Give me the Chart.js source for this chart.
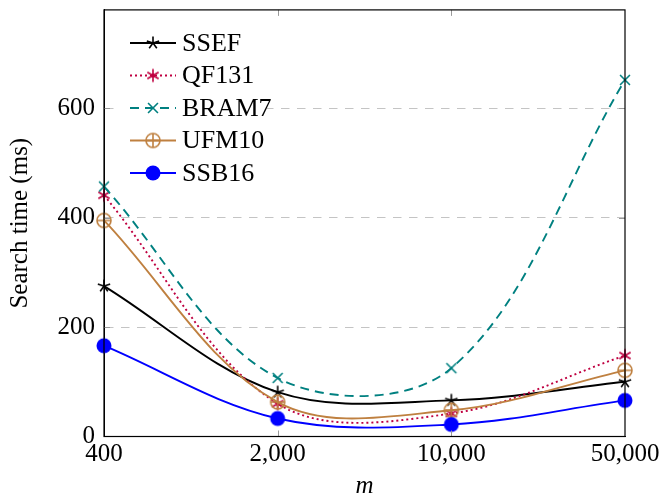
<!DOCTYPE html>
<html lang="en">
<head>
<meta charset="UTF-8">
<title>Search time</title>
<script src="https://cdn.jsdelivr.net/npm/chart.js"></script>
<style>
  body { margin: 0; background: #fff; }
  #wrap { width: 663px; height: 501px; }
</style>
</head>
<body>
<div id="wrap"><canvas id="searchChart"></canvas></div>
<script>
// pattern length m (log spaced, so drawn as evenly spaced categories)
const patternLengths = ['400', '2,000', '10,000', '50,000'];
const ssef  = [275, 81, 66, 100];
const qf131 = [441, 60, 42, 148];
const bram7 = [457, 107, 125, 652];
const ufm10 = [395, 63, 48, 121];
const ssb16 = [166, 33, 22, 66];
const yTicks = [0, 200, 400, 600];

const FONT = "'Liberation Serif', 'DejaVu Serif', serif";

function makeMarker(draw) {
    const c = document.createElement('canvas');
    c.width = 20; c.height = 20;
    const g = c.getContext('2d');
    g.translate(10, 10);
    draw(g);
    return c;
}

function spokes(color, n, r, start) {
    return makeMarker(g => {
        g.strokeStyle = color;
        g.lineWidth = 1.6;
        g.beginPath();
        for (let k = 0; k < n; k++) {
            const a = start + k * 2 * Math.PI / n;
            g.moveTo(0, 0);
            g.lineTo(r * Math.cos(a), -r * Math.sin(a));
        }
        g.stroke();
    });
}

const starMark = spokes('#000000', 5, 6.5, Math.PI / 2);
const asteriskMark = spokes('#bf0040', 6, 6.5, Math.PI / 2);
const crossMark = spokes('#008080', 4, 7, Math.PI / 4);
const oplusMark = makeMarker(g => {
    g.strokeStyle = '#bf8040';
    g.lineWidth = 1.6;
    g.beginPath();
    g.arc(0, 0, 7, 0, 2 * Math.PI);
    g.moveTo(-7, 0); g.lineTo(7, 0);
    g.moveTo(0, -7); g.lineTo(0, 7);
    g.stroke();
});
const dotMark = makeMarker(g => {
    g.fillStyle = '#0000ff';
    g.beginPath();
    g.arc(0, 0, 7.5, 0, 2 * Math.PI);
    g.fill();
});

function series(label, data, color, mark, dash, order) {
    return {
        label: label,
        data: data,
        borderColor: color,
        backgroundColor: color,
        borderWidth: 1.9,
        borderDash: dash,
        pointStyle: mark,
        pointRadius: 8,
        tension: 0.35,
        fill: false,
        clip: false,
        order: order
    };
}

// inward tick marks on all four sides, like the original frame
const frameTicks = {
    id: 'frameTicks',
    afterDatasetsDraw(chart) {
        const { ctx, chartArea: a, scales } = chart;
        ctx.save();
        ctx.strokeStyle = '#999';
        ctx.lineWidth = 1;
        ctx.beginPath();
        yTicks.slice(1).forEach(v => {
            const y = Math.round(scales.y.getPixelForValue(v)) + 0.5;
            ctx.moveTo(a.left, y); ctx.lineTo(a.left + 6, y);
            ctx.moveTo(a.right, y); ctx.lineTo(a.right - 6, y);
        });
        patternLengths.forEach((l, i) => {
            if (i === 0 || i === patternLengths.length - 1) return;
            const x = Math.round(scales.x.getPixelForValue(i)) + 0.5;
            ctx.moveTo(x, a.bottom); ctx.lineTo(x, a.bottom - 6);
            ctx.moveTo(x, a.top); ctx.lineTo(x, a.top + 6);
        });
        ctx.stroke();
        ctx.strokeStyle = '#000';
        ctx.lineWidth = 1.2;
        ctx.strokeRect(a.left, a.top, a.right - a.left, a.bottom - a.top);
        ctx.restore();
    }
};

// legend inside the plot: line sample, marker, name
const insideLegend = {
    id: 'insideLegend',
    afterDraw(chart) {
        const ctx = chart.ctx;
        const sets = chart.data.datasets;
        ctx.save();
        ctx.fillStyle = '#fff';
        ctx.fillRect(117, 24, 150, 166);
        sets.forEach((ds, i) => {
            const y = 43 + i * 32.5;
            ctx.strokeStyle = ds.borderColor;
            ctx.lineWidth = ds.borderWidth;
            ctx.setLineDash(ds.borderDash);
            ctx.beginPath();
            ctx.moveTo(130, y); ctx.lineTo(176, y);
            ctx.stroke();
            ctx.setLineDash([]);
            ctx.drawImage(ds.pointStyle, 153 - 10, y - 10);
            ctx.fillStyle = '#000';
            ctx.font = '26px ' + FONT;
            ctx.textBaseline = 'middle';
            ctx.fillText(ds.label, 182, y + 1);
        });
        ctx.restore();
    }
};

new Chart(document.getElementById('searchChart'), {
    type: 'line',
    data: {
        labels: patternLengths,
        datasets: [
            series('SSEF', ssef, '#000000', starMark, [], 4),
            series('QF131', qf131, '#bf0040', asteriskMark, [2, 3], 3),
            series('BRAM7', bram7, '#008080', crossMark, [9, 6], 2),
            series('UFM10', ufm10, '#bf8040', oplusMark, [], 1),
            series('SSB16', ssb16, '#0000ff', dotMark, [], 0)
        ]
    },
    options: {
        responsive: true,
        maintainAspectRatio: false,
        animation: false,
        layout: { padding: { left: 0, top: 7, right: 38, bottom: 0 } },
        plugins: {
            legend: { display: false },
            tooltip: { enabled: false }
        },
        scales: {
            x: {
                type: 'category',
                offset: false,
                grid: { display: false, drawTicks: false },
                border: { color: '#000', width: 1 },
                ticks: { color: '#000', padding: 3, font: { family: FONT, size: 25 } },
                title: {
                    display: true, text: 'm', color: '#000', padding: { top: 7, bottom: 0 },
                    font: { family: FONT, size: 25, style: 'italic' }
                },
                afterFit(scale) {
                    scale.height = 64.5;
                    scale.paddingLeft = 0;
                    scale.paddingRight = 0;
                }
            },
            y: {
                min: 0,
                max: 780,
                afterBuildTicks(scale) { scale.ticks = yTicks.map(v => ({ value: v })); },
                grid: {
                    drawTicks: false,
                    color: ctx => ctx.tick && ctx.tick.value === 0 ? 'rgba(0,0,0,0)' : '#c4c4c4',
                    lineWidth: 1
                },
                border: { color: '#000', width: 1, dash: [8.5, 7.5] },
                ticks: { color: '#000', padding: 9, font: { family: FONT, size: 25 } },
                title: {
                    display: true, text: 'Search time (ms)', color: '#000', padding: { top: 5, bottom: 0 },
                    font: { family: FONT, size: 25 }
                },
                afterFit(scale) {
                    scale.width = 104;
                    scale.paddingTop = 0;
                    scale.paddingBottom = 0;
                }
            }
        }
    },
    plugins: [frameTicks, insideLegend]
});
</script>
</body>
</html>
